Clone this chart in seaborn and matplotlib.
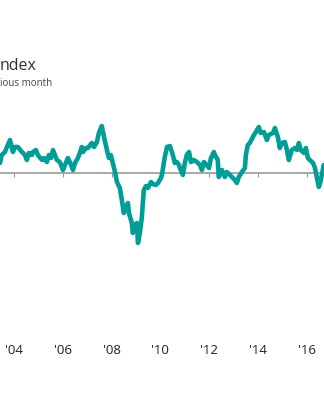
import matplotlib
matplotlib.use("Agg")
import matplotlib.pyplot as plt
import seaborn as sns
import pandas as pd

# ---- data (decimal years, index change) ----
years = [2003.43, 2003.50, 2003.63, 2003.84, 2003.96, 2004.04, 2004.16, 2004.33, 2004.45, 2004.53,
         2004.61, 2004.74, 2004.78, 2004.90, 2004.98, 2005.15, 2005.23, 2005.35, 2005.43, 2005.52,
         2005.60, 2005.68, 2005.76, 2005.88, 2006.01, 2006.09, 2006.21, 2006.29, 2006.42, 2006.50,
         2006.62, 2006.70, 2006.78, 2006.83, 2006.95, 2007.03, 2007.19, 2007.28, 2007.40, 2007.48,
         2007.60, 2007.69, 2007.81, 2007.89, 2007.97, 2008.05, 2008.14, 2008.22, 2008.34, 2008.42,
         2008.50, 2008.59, 2008.67, 2008.71, 2008.83, 2008.87, 2008.95, 2009.04, 2009.08, 2009.16,
         2009.24, 2009.32, 2009.41, 2009.49, 2009.61, 2009.69, 2009.81, 2009.90, 2010.02, 2010.06,
         2010.18, 2010.27, 2010.39, 2010.51, 2010.59, 2010.67, 2010.76, 2010.80, 2010.92, 2011.00,
         2011.08, 2011.17, 2011.25, 2011.37, 2011.49, 2011.62, 2011.70, 2011.78, 2011.82, 2011.99,
         2012.07, 2012.19, 2012.23, 2012.35, 2012.39, 2012.52, 2012.64, 2012.72, 2012.85, 2012.93,
         2013.05, 2013.13, 2013.21, 2013.34, 2013.46, 2013.50, 2013.58, 2013.66, 2013.83, 2013.91,
         2014.03, 2014.11, 2014.24, 2014.36, 2014.44, 2014.61, 2014.69, 2014.81, 2014.89, 2014.97,
         2015.10, 2015.18, 2015.26, 2015.38, 2015.51, 2015.59, 2015.67, 2015.75, 2015.88, 2015.96,
         2016.04, 2016.12, 2016.25, 2016.33, 2016.41, 2016.49, 2016.57, 2016.69]
values = [1.0, 1.8, 2.1, 3.3, 2.1, 2.6, 2.6, 2.1, 1.8, 1.3,
          2.0, 1.8, 2.1, 2.3, 1.8, 1.3, 1.5, 1.1, 1.8, 1.5,
          2.3, 1.8, 1.3, 1.1, 0.3, 0.8, 1.5, 1.1, 0.3, 1.0,
          1.5, 2.0, 2.6, 2.1, 2.5, 2.5, 3.0, 2.6, 3.1, 4.0,
          4.7, 3.6, 2.3, 1.5, 1.8, 1.0, 0.1, -0.9, -1.5, -2.7,
          -4.0, -3.4, -3.0, -4.0, -5.0, -6.0, -5.2, -5.0, -7.0, -6.0,
          -4.4, -1.7, -1.3, -1.5, -0.9, -1.1, -1.2, -1.0, -0.5, -0.2,
          1.6, 2.6, 2.7, 1.8, 1.0, 1.1, 0.8, 0.5, -0.2, 1.0,
          1.8, 2.1, 1.1, 1.3, 1.1, 0.8, 0.3, 1.1, 1.0, 0.5,
          1.5, 2.1, 1.8, 1.3, -0.4, 0.3, -0.4, 0.1, -0.2, -0.4,
          -0.7, -1.0, -0.4, 0.1, 0.5, 1.8, 2.8, 3.0, 3.8, 4.1,
          4.6, 4.0, 4.1, 3.3, 3.8, 4.0, 4.5, 3.6, 2.5, 3.0,
          3.1, 2.3, 1.3, 2.3, 2.5, 2.3, 3.0, 2.3, 2.0, 2.5,
          1.5, 1.3, 1.0, 0.5, -0.5, -1.4, -0.7, 0.8]
tick_years = [2004, 2006, 2008, 2010, 2012, 2014, 2016]
tick_labels = ["'04", "'06", "'08", "'10", "'12", "'14", "'16"]
title = "ndex"
subtitle = "ious month"

df = pd.DataFrame({"year": years, "value": values})

sns.set_theme(style="white")
plt.rcParams["font.family"] = ["Open Sans", "DejaVu Sans"]

fig = plt.figure(figsize=(3.24, 4.0), dpi=100)
ax = fig.add_axes([0.0, 0.175, 1.0, 0.575])

sns.lineplot(data=df, x="year", y="value", ax=ax, color="#009e96",
             linewidth=3.3, estimator=None, sort=False, zorder=3,
             solid_joinstyle="round", solid_capstyle="round")

ax.set_xlim(2003.43, 2016.70)
ax.set_ylim(-15.7, 7.3)

for s in ["top", "left", "right"]:
    ax.spines[s].set_visible(False)
ax.spines["bottom"].set_position(("data", 0))
ax.spines["bottom"].set_color("#9a9a9a")
ax.spines["bottom"].set_linewidth(1.2)
ax.spines["bottom"].set_zorder(2)

ax.set_yticks([])
ax.set_xticks(tick_years)
ax.set_xticklabels(tick_labels)
ax.tick_params(axis="x", direction="out", length=3.0, width=0.8, color="#9a9a9a",
               bottom=True, pad=120, labelsize=9.5, labelcolor="#222222")
ax.set_xlabel("")
ax.set_ylabel("")

fig.text(0.0, 1 - 70 / 400, title, fontsize=11.5, color="#333333", ha="left", va="baseline")
fig.text(0.0, 1 - 86.5 / 400, subtitle, fontsize=7, color="#444444", ha="left", va="baseline")

fig.savefig("out.png", dpi=100, facecolor="white")
